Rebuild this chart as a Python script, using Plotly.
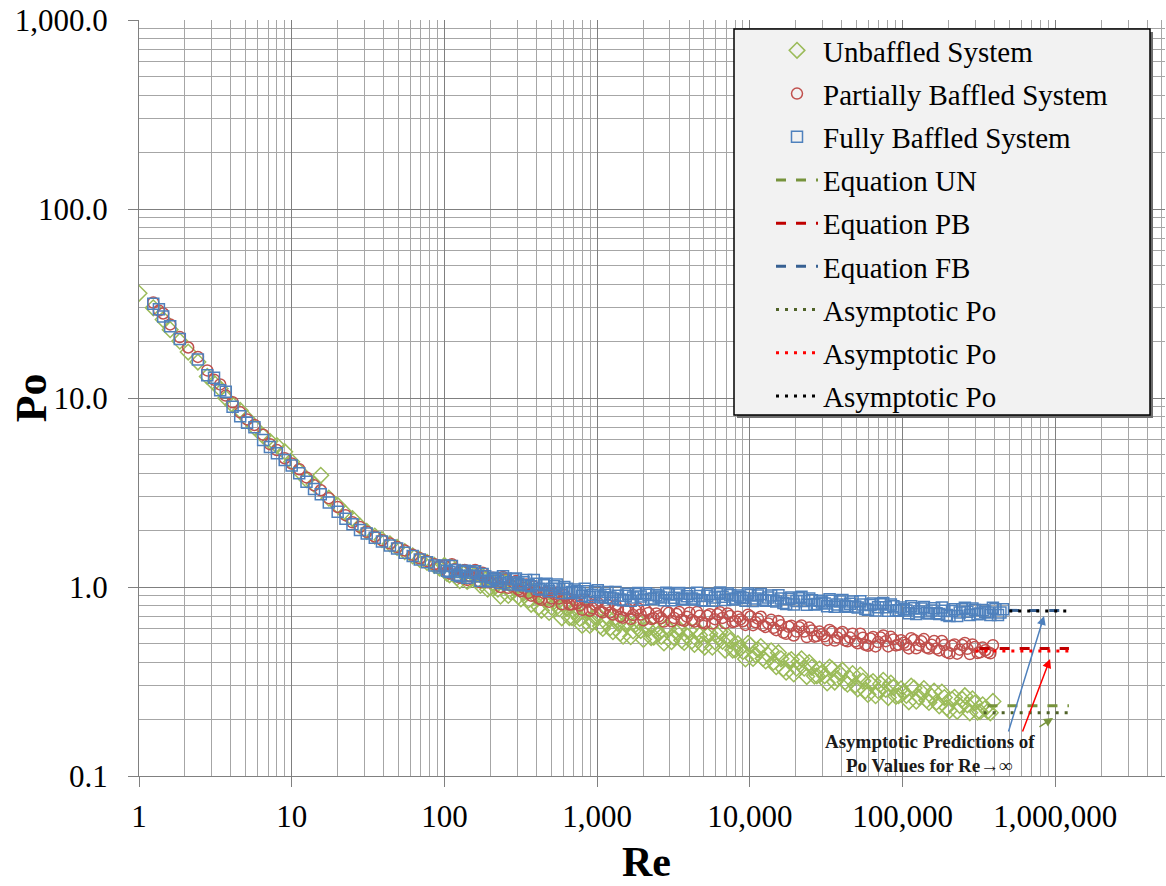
import math
import plotly.graph_objects as go

# ---------------- data ----------------
re_lo = [1.0, 1.12, 1.24, 1.35, 1.44, 1.6, 1.85, 2.1, 2.43, 2.8,
         3.1, 3.4, 3.7, 4.1, 4.6, 5.1, 5.7, 6.5, 7.2, 8.0,
         9.0, 10.0, 11.2, 12.5, 14, 15.5, 17.5, 20, 22.5, 25,
         28, 31, 35, 39, 44, 49, 55, 62, 69, 77,
         86, 93]

un_lo = [35.8, None, 30.0, None, 26.0, 23.0, 20.0, 17.5, 15.5, 13.0,
         12.0, 11.2, 10.0, 9.2, 8.6, 7.8, 7.0, 6.3, 5.9, 5.6,
         5.2, 4.6, 4.1, 3.7, 3.5, 3.9, 2.95, 2.7, 2.45, 2.3,
         2.1, 1.97, 1.86, 1.78, 1.69, 1.62, 1.54, 1.46, 1.40, 1.35,
         1.30, 1.26]

pb_lo = [None, None, 32.0, 29.0, 28.0, 24.5, 21.0, 18.5, 16.5, 14.0,
         12.5, 11.8, 10.3, 9.5, 8.4, 7.7, 7.2, 6.4, 5.7, 5.3,
         4.8, 4.5, 4.2, 3.8, 3.45, 3.25, 2.95, 2.65, 2.4, 2.2,
         2.08, 1.96, 1.85, 1.77, 1.70, 1.63, 1.56, 1.48, 1.42, 1.37,
         1.32, 1.29]

fb_lo = [None, None, 31.5, 29.5, 27.0, 24.0, 20.5, None, 16.0, 13.2,
         12.8, 11.0, 10.8, 9.0, 8.0, 7.4, 7.0, 6.0, 5.5, 5.1,
         4.7, 4.4, 4.0, 3.6, 3.3, 3.1, 2.8, 2.5, 2.3, 2.15,
         2.0, 1.92, 1.82, 1.74, 1.66, 1.6, 1.52, 1.46, 1.40, 1.35,
         1.30, 1.27]

re_hi = [100, 108, 117, 126, 136, 147, 159, 172, 185, 200,
         216, 233, 252, 272, 294, 317, 343, 370, 400, 432,
         466, 504, 544, 587, 634, 685, 740, 799, 863, 932,
         1010, 1090, 1170, 1270, 1370, 1480, 1600, 1720, 1860, 2010,
         2170, 2350, 2530, 2740, 2950, 3190, 3450, 3720, 4020, 4340,
         4690, 5060, 5470, 5900, 6380, 6890, 7440, 8030, 8670, 9370,
         10100, 10900, 11800, 12700, 13800, 14900, 16000, 17300, 18700, 20200,
         21800, 23600, 25500, 27500, 29700, 32100, 34600, 37400, 40400, 43600,
         47100, 50900, 55000, 59400, 64100, 69200, 74800, 80700, 87200, 94200,
         102000, 110000, 119000, 128000, 138000, 149000, 161000, 174000, 188000, 203000,
         219000, 237000, 256000, 276000, 298000, 322000, 348000, 376000, 406000, 438000]

fb_hi = [1.30, 1.20, 1.23, 1.14, 1.22, 1.15, 1.21, 1.08, 1.14, 1.08,
         1.10, 1.05, 1.11, 1.06, 1.11, 1.02, 1.09, 1.01, 1.04, 0.97,
         1.04, 0.98, 1.03, 0.93, 0.98, 0.94, 0.95, 0.90, 0.95, 0.91,
         0.96, 0.88, 0.94, 0.87, 0.90, 0.85, 0.92, 0.88, 0.93, 0.855,
         0.91, 0.87, 0.89, 0.85, 0.915, 0.877, 0.93, 0.86, 0.92, 0.86,
         0.897, 0.845, 0.917, 0.88, 0.935, 0.853, 0.906, 0.868, 0.884, 0.847,
         0.906, 0.869, 0.919, 0.846, 0.903, 0.839, 0.869, 0.814, 0.879, 0.842,
         0.887, 0.806, 0.852, 0.813, 0.827, 0.79, 0.845, 0.809, 0.854, 0.786,
         0.838, 0.779, 0.808, 0.757, 0.818, 0.782, 0.824, 0.749, 0.79, 0.753,
         0.762, 0.726, 0.773, 0.741, 0.783, 0.723, 0.773, 0.72, 0.748, 0.703,
         0.762, 0.733, 0.777, 0.71, 0.755, 0.725, 0.74, 0.71, 0.762, 0.733]

pb_hi = [1.30, 1.18, 1.24, 1.12, 1.23, 1.14, 1.23, 1.06, 1.14, 1.06,
         1.08, 1.00, 1.10, 1.02, 1.075, 0.95, 1.03, 0.90, 0.95, 0.855,
         0.94, 0.87, 0.935, 0.81, 0.875, 0.81, 0.82, 0.757, 0.835, 0.772,
         0.824, 0.734, 0.806, 0.715, 0.76, 0.688, 0.762, 0.712, 0.77, 0.667,
         0.729, 0.684, 0.70, 0.656, 0.73, 0.686, 0.738, 0.662, 0.731, 0.656,
         0.704, 0.642, 0.718, 0.676, 0.736, 0.644, 0.702, 0.658, 0.674, 0.63,
         0.698, 0.651, 0.696, 0.615, 0.67, 0.591, 0.627, 0.565, 0.624, 0.581,
         0.626, 0.543, 0.589, 0.55, 0.562, 0.523, 0.579, 0.541, 0.578, 0.516,
         0.566, 0.504, 0.539, 0.489, 0.544, 0.511, 0.554, 0.485, 0.528, 0.495,
         0.507, 0.473, 0.525, 0.493, 0.53, 0.472, 0.518, 0.462, 0.493, 0.446,
         0.497, 0.466, 0.506, 0.442, 0.482, 0.451, 0.463, 0.446]

un_hi = [1.30, 1.16, 1.23, 1.08, 1.19, 1.09, 1.17, 1.02, 1.09, 0.99,
         1.01, 0.895, 1.06, 0.94, 1.03, 0.865, 0.98, 0.81, 0.886, 0.752,
         0.875, 0.78, 0.866, 0.687, 0.77, 0.689, 0.71, 0.626, 0.734, 0.652,
         0.715, 0.604, 0.694, 0.58, 0.642, 0.549, 0.647, 0.585, 0.66, 0.528,
         0.60, 0.543, 0.567, 0.506, 0.60, 0.539, 0.60, 0.509, 0.589, 0.497,
         0.556, 0.481, 0.567, 0.514, 0.579, 0.464, 0.52, 0.464, 0.476, 0.416,
         0.491, 0.438, 0.484, 0.406, 0.46, 0.379, 0.417, 0.354, 0.413, 0.372,
         0.417, 0.336, 0.376, 0.339, 0.352, 0.311, 0.368, 0.328, 0.363, 0.306,
         0.348, 0.289, 0.318, 0.27, 0.316, 0.283, 0.321, 0.26, 0.294, 0.266,
         0.277, 0.247, 0.292, 0.262, 0.29, 0.245, 0.281, 0.235, 0.26, 0.222,
         0.261, 0.236, 0.266, 0.216, 0.243, 0.219, 0.228, 0.216]

# second, interleaved set of readings (the bands are very dense)
re_hi2 = [104, 112, 121, 131, 141, 153, 165, 178, 192, 208,
          224, 242, 262, 283, 305, 330, 356, 385, 416, 449,
          485, 524, 565, 610, 659, 712, 769, 831, 897, 970,
          1050, 1130, 1220, 1320, 1420, 1540, 1660, 1790, 1930, 2090,
          2260, 2440, 2630, 2840, 3070, 3320, 3580, 3870, 4180, 4510,
          4870, 5260, 5680, 6140, 6630, 7160, 7730, 8350, 9010, 9730,
          10500, 11300, 12200, 13200, 14300, 15400, 16600, 18000, 19400, 21000,
          22700, 24500, 26500, 28600, 30900, 33300, 36000, 38900, 42000, 45300,
          49000, 52900, 57100, 61700, 66600, 71900, 77700, 83900, 90600, 97800,
          106000, 114000, 123000, 133000, 144000, 155000, 167000, 181000, 195000, 211000,
          228000, 246000, 266000, 287000, 310000, 335000, 362000, 391000, 422000, 455000]

fb_hi2 = [1.22, 1.29, 1.16, 1.20, 1.12, 1.19, 1.14, 1.17, 1.07, 1.12,
          1.08, 1.14, 1.03, 1.10, 1.04, 1.06, 1.02, 1.09, 0.98, 1.02,
          0.95, 1.01, 0.975, 1.00, 0.93, 0.97, 0.93, 0.98, 0.885, 0.94,
          0.89, 0.91, 0.88, 0.94, 0.86, 0.90, 0.845, 0.917, 0.89, 0.926,
          0.863, 0.908, 0.88, 0.932, 0.852, 0.913, 0.867, 0.894, 0.868, 0.931,
          0.852, 0.898, 0.846, 0.917, 0.889, 0.924, 0.86, 0.903, 0.874, 0.925,
          0.844, 0.902, 0.856, 0.879, 0.849, 0.905, 0.824, 0.864, 0.808, 0.872,
          0.842, 0.87, 0.807, 0.845, 0.817, 0.862, 0.785, 0.839, 0.795, 0.816,
          0.788, 0.841, 0.766, 0.803, 0.752, 0.811, 0.782, 0.808, 0.748, 0.78,
          0.751, 0.791, 0.719, 0.769, 0.73, 0.751, 0.727, 0.778, 0.71, 0.747,
          0.703, 0.762, 0.74, 0.77, 0.718, 0.755, 0.733, 0.777, 0.71, 0.762]

pb_hi2 = [1.21, 1.32, 1.14, 1.21, 1.09, 1.20, 1.14, 1.19, 1.06, 1.12,
          1.05, 1.13, 0.99, 1.06, 0.97, 0.99, 0.93, 1.006, 0.87, 0.93,
          0.835, 0.917, 0.868, 0.906, 0.808, 0.853, 0.797, 0.856, 0.749, 0.806,
          0.745, 0.77, 0.733, 0.801, 0.697, 0.751, 0.679, 0.752, 0.715, 0.752,
          0.678, 0.724, 0.685, 0.745, 0.659, 0.719, 0.669, 0.697, 0.669, 0.738,
          0.649, 0.704, 0.642, 0.717, 0.686, 0.724, 0.653, 0.696, 0.659, 0.714,
          0.628, 0.68, 0.626, 0.642, 0.608, 0.661, 0.574, 0.616, 0.554, 0.613,
          0.581, 0.61, 0.546, 0.581, 0.548, 0.592, 0.521, 0.565, 0.522, 0.54,
          0.516, 0.566, 0.495, 0.534, 0.485, 0.54, 0.517, 0.545, 0.491, 0.523,
          0.495, 0.536, 0.474, 0.516, 0.478, 0.495, 0.472, 0.518, 0.452, 0.489,
          0.444, 0.493, 0.471, 0.497, 0.447, 0.478, 0.452, 0.492]

un_hi2 = [1.18, 1.28, 1.12, 1.19, 1.07, 1.17, 1.09, 1.14, 0.973, 1.056,
          0.973, 1.087, 0.902, 0.995, 0.891, 0.928, 0.854, 0.957, 0.785, 0.86,
          0.734, 0.84, 0.768, 0.815, 0.689, 0.747, 0.682, 0.757, 0.626, 0.691,
          0.621, 0.653, 0.609, 0.69, 0.57, 0.632, 0.546, 0.635, 0.588, 0.631,
          0.54, 0.593, 0.548, 0.615, 0.514, 0.575, 0.522, 0.552, 0.518, 0.594,
          0.497, 0.554, 0.48, 0.558, 0.516, 0.55, 0.464, 0.501, 0.455, 0.504,
          0.419, 0.466, 0.419, 0.436, 0.40, 0.449, 0.369, 0.406, 0.347, 0.402,
          0.372, 0.398, 0.338, 0.368, 0.339, 0.377, 0.314, 0.349, 0.314, 0.328,
          0.303, 0.342, 0.282, 0.309, 0.266, 0.307, 0.287, 0.31, 0.264, 0.289,
          0.267, 0.299, 0.249, 0.278, 0.252, 0.264, 0.246, 0.278, 0.23, 0.254,
          0.22, 0.255, 0.238, 0.256, 0.218, 0.238, 0.22, 0.248]

# extrapolated equation segments and asymptotic values (Re -> infinity)
eq_un_re = [360000, 1230000]
eq_un_po = [0.235, 0.235]
eq_pb_re = [320000, 1230000]
eq_pb_po = [0.472, 0.472]
eq_fb_re = [500000, 1200000]
eq_fb_po = [0.752, 0.752]
as_un_re = [340000, 1250000]
as_un_po = [0.216, 0.216]
as_pb_re = [300000, 1250000]
as_pb_po = [0.458, 0.458]
as_fb_re = [500000, 1220000]
as_fb_po = [0.746, 0.746]

x_tickvals = [1, 10, 100, 1000, 10000, 100000, 1000000]
x_ticktext = ["1", "10", "100", "1,000", "10,000", "100,000", "1,000,000"]
y_tickvals = [0.1, 1, 10, 100, 1000]
y_ticktext = ["0.1", "1.0", "10.0", "100.0", "1,000.0"]

# arrows: (tail Re, tail Po, head Re, head Po, colour)
arrows = [(491000, 0.169, 845000, 0.703, "#4f81bd"),
          (606000, 0.169, 925000, 0.416, "#ff0000"),
          (771000, 0.180, 968000, 0.203, "#77933c")]

# ---------------- figure ----------------
FONT = "Liberation Serif"
GREEN, RED, BLUE = "#9bbb59", "#c0504d", "#4f81bd"


def pairs(re_a, po_a):
    xs, ys = [], []
    for r, p in zip(re_a, po_a):
        if p is not None:
            xs.append(r)
            ys.append(p)
    return xs, ys


fig = go.Figure()

series = [("Unbaffled System", un_lo, un_hi, un_hi2, "diamond-open", GREEN, 12),
          ("Partially Baffled System", pb_lo, pb_hi, pb_hi2, "circle-open", RED, 11),
          ("Fully Baffled System", fb_lo, fb_hi, fb_hi2, "square-open", BLUE, 11)]
for i, (name, lo, hi, hi2, sym, col, sz) in enumerate(series):
    xs, ys = pairs(re_lo + re_hi[:len(hi)] + re_hi2[:len(hi2)], lo + hi + hi2)
    fig.add_trace(go.Scatter(x=xs, y=ys, mode="markers", name=name,
                             legendgroup="g%d" % i,
                             marker=dict(symbol=sym, size=sz, color=col,
                                         line=dict(width=1.5, color=col))))

lines = [("Equation UN", eq_un_re, eq_un_po, "#77933c", "10px,10px"),
         ("Equation PB", eq_pb_re, eq_pb_po, "#c00000", "10px,10px"),
         ("Equation FB", eq_fb_re, eq_fb_po, "#376092", "10px,10px"),
         ("Asymptotic Po", as_un_re, as_un_po, "#4f6228", "3px,6px"),
         ("Asymptotic Po", as_pb_re, as_pb_po, "#ff0000", "3px,6px"),
         ("Asymptotic Po", as_fb_re, as_fb_po, "#000000", "3px,6px")]
for j, (name, xr, yp, col, dash) in enumerate(lines):
    fig.add_trace(go.Scatter(x=xr, y=yp, mode="lines", name=name,
                             legendgroup="l%d" % j,
                             line=dict(color=col, width=3, dash=dash)))

minor_vals = [k * 10 ** e for e in range(-1, 7) for k in range(2, 10)]

axis_common = dict(type="log", showline=True, linecolor="#808080", linewidth=1,
                   ticks="outside", ticklen=10, tickcolor="#808080",
                   gridcolor="#7f7f7f", gridwidth=1, zeroline=False,
                   tickfont=dict(family=FONT, size=31, color="black"),
                   minor=dict(tickmode="array", tickvals=minor_vals, showgrid=True,
                              gridcolor="#a6a6a6", gridwidth=1, ticks=""))

fig.update_xaxes(range=[0, 6.719], tickmode="array", tickvals=x_tickvals,
                 ticktext=x_ticktext, ticklabelstandoff=3, **axis_common)
fig.update_yaxes(range=[-1, 3], tickmode="array", tickvals=y_tickvals,
                 ticktext=y_ticktext, ticklabelstandoff=14, **axis_common)

annotations = [
    dict(text="<b>Re</b>", x=0.495, y=-0.114, xref="paper", yref="paper",
         showarrow=False, xanchor="center", yanchor="middle",
         font=dict(family=FONT, size=42, color="black")),
    dict(text="<b>Po</b>", x=-0.105, y=0.5, xref="paper", yref="paper",
         showarrow=False, xanchor="center", yanchor="middle", textangle=-90,
         font=dict(family=FONT, size=44, color="black")),
    dict(text="<b>Asymptotic Predictions of</b>", x=math.log10(151000), y=math.log10(0.153),
         xref="x", yref="y", showarrow=False, xanchor="center", yanchor="middle",
         font=dict(family=FONT, size=19, color="#1a1a1a")),
    dict(text="<b>Po Values for Re\u2192\u221e</b>", x=math.log10(151000), y=math.log10(0.114),
         xref="x", yref="y", showarrow=False, xanchor="center", yanchor="middle",
         font=dict(family=FONT, size=19, color="#1a1a1a")),
]
for tr, tp, hr, hp, col in arrows:
    annotations.append(dict(text="", x=math.log10(hr), y=math.log10(hp),
                            ax=math.log10(tr), ay=math.log10(tp),
                            xref="x", yref="y", axref="x", ayref="y",
                            showarrow=True, arrowhead=2, arrowsize=1.2,
                            arrowwidth=1.5, arrowcolor=col))

# legend box (drawn as shapes so its size matches the original)
PL, PW, PT, PH = 139, 1026, 20, 756


def px_x(v):
    return (v - PL) / PW


def px_y(v):
    return (PT + PH - v) / PH


shapes = [
    dict(type="rect", xref="paper", yref="paper", layer="above",
         x0=px_x(737), x1=px_x(1153), y0=px_y(418), y1=px_y(32),
         fillcolor="#6e6e6e", line=dict(width=0)),
    dict(type="rect", xref="paper", yref="paper", layer="above",
         x0=px_x(734), x1=px_x(1150), y0=px_y(415), y1=px_y(29),
         fillcolor="#f2f2f2", line=dict(color="#000000", width=1.5)),
]

fig.update_layout(
    width=1166, height=886,
    margin=dict(l=PL, r=1, t=PT, b=110),
    paper_bgcolor="white", plot_bgcolor="white",
    font=dict(family=FONT, color="black"),
    annotations=annotations,
    shapes=shapes,
    legend=dict(x=px_x(734), y=px_y(25), xanchor="left", yanchor="top",
                bgcolor="rgba(0,0,0,0)", borderwidth=0,
                font=dict(family=FONT, size=29, color="black"),
                itemwidth=42, indentation=37, tracegroupgap=2.5,
                traceorder="grouped"),
    showlegend=True,
)

fig.write_html("out.html")
